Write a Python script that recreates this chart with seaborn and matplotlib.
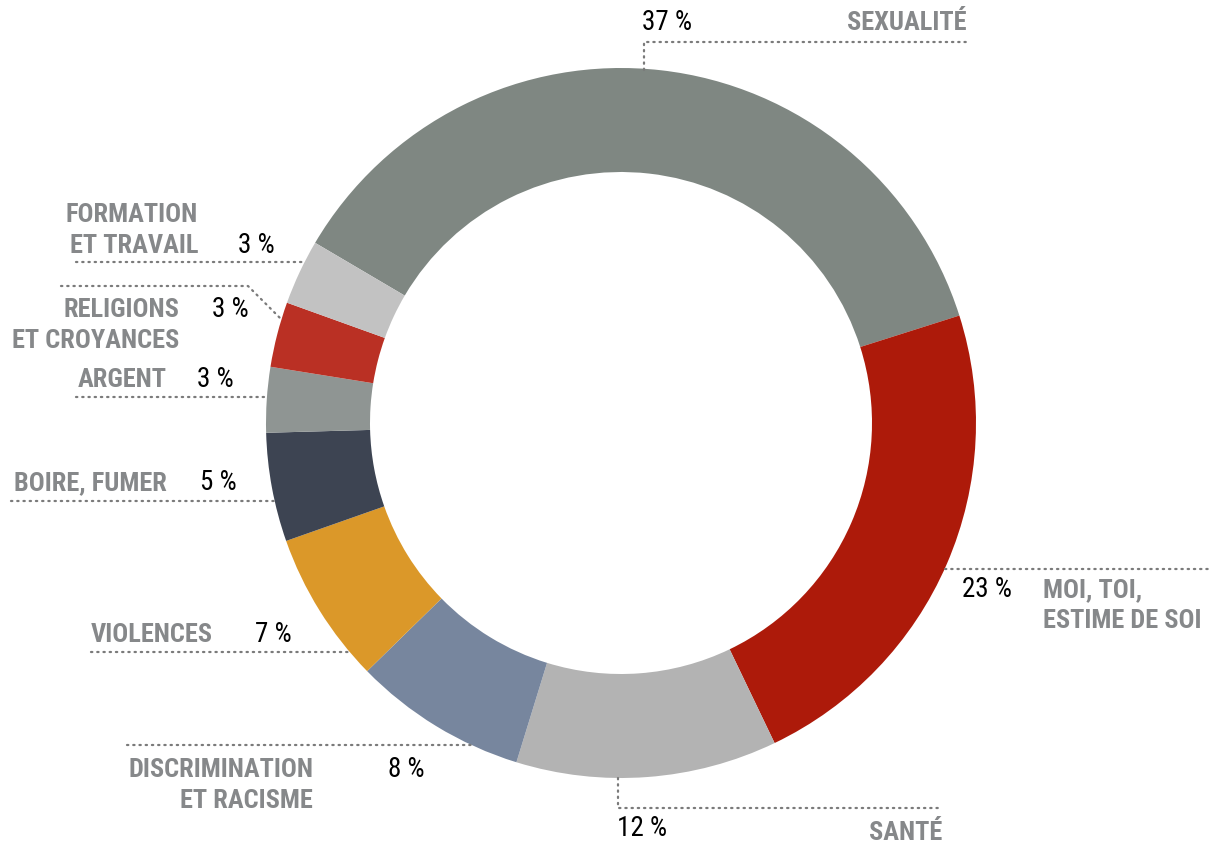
import matplotlib
matplotlib.use('Agg')
import matplotlib.pyplot as plt
from matplotlib import font_manager
import seaborn as sns

# data (clockwise from the top)
categories = ['SEXUALITÉ', 'MOI, TOI,\nESTIME DE SOI', 'SANTÉ', 'DISCRIMINATION\nET RACISME',
              'VIOLENCES', 'BOIRE, FUMER', 'ARGENT', 'RELIGIONS\nET CROYANCES', 'FORMATION\nET TRAVAIL']
values = [37, 23, 12, 8, 7, 5, 3, 3, 3]
pct_labels = ['37 %', '23 %', '12 %', '8 %', '7 %', '5 %', '3 %', '3 %', '3 %']
colors = ['#7f8782', '#ad1a0a', '#b3b3b3', '#77869e', '#db9829',
          '#3d4452', '#8f9593', '#ba3024', '#c2c2c2']

W, H = 1216, 843
sns.set_theme(style='white')
names = font_manager.get_font_names()
fam = 'Roboto'
for cand in ['Liberation Sans Narrow', 'DejaVu Sans Condensed', 'Roboto Condensed', 'Open Sans Condensed']:
    if cand in names:
        fam = cand
        break
plt.rcParams['font.family'] = [fam, 'DejaVu Sans']

fig = plt.figure(figsize=(W / 100, H / 100), dpi=100)
ax = fig.add_axes([0, 0, 1, 1])

cx, cy, R = 621, 423, 355
ax.pie(values, colors=colors, startangle=149.5, counterclock=False,
       center=(cx, H - cy), radius=R,
       wedgeprops=dict(width=104, linewidth=0))
ax.set_xlim(0, W)
ax.set_ylim(0, H)
ax.set_aspect('equal')
ax.axis('off')

gray = '#86888a'
lstyle = dict(color='#7a7a7a', lw=1.6, linestyle=(0, (0.6, 2.2)), dash_capstyle='round')
fs = 17 if fam == 'Roboto' else 19
fs_pct = 17 if fam == 'Roboto' else 19.5


def line(pts):
    xs = [p[0] for p in pts]
    ys = [H - p[1] for p in pts]
    ax.plot(xs, ys, **lstyle)


def label(i, cat_xy, cat_ha, pct_xy, pct_ha='left'):
    lines = categories[i].split('\n')
    for k, t in enumerate(lines):
        ax.text(cat_xy[0], H - (cat_xy[1] + 31 * k), t, ha=cat_ha, va='baseline',
                fontsize=fs, fontweight='bold', color=gray)
    ax.text(pct_xy[0], H - pct_xy[1], pct_labels[i], ha=pct_ha, va='baseline',
            fontsize=fs_pct, color='black')


# leader lines
line([(644, 70), (644, 42), (968, 42)])
line([(945, 569), (1208, 569)])
line([(618, 778), (618, 808), (942, 808)])
line([(127, 745), (472, 745)])
line([(91, 652), (350, 652)])
line([(11, 501), (275, 501)])
line([(76, 397), (268, 397)])
line([(61, 286), (248, 286), (282, 320)])
line([(76, 262), (305, 262)])

# labels
label(0, (966, 30), 'right', (642, 30))
label(1, (1043, 597), 'left', (962, 597))
label(2, (942, 840), 'right', (617, 836))
label(3, (313, 777), 'right', (388, 777))
label(4, (213, 642), 'right', (255, 642))
label(5, (167, 490), 'right', (200, 490))
label(6, (167, 387), 'right', (197, 387))
label(7, (179, 317), 'right', (212, 317))
label(8, (198, 222), 'right', (238, 253))

fig.savefig('out.png', dpi=100)
